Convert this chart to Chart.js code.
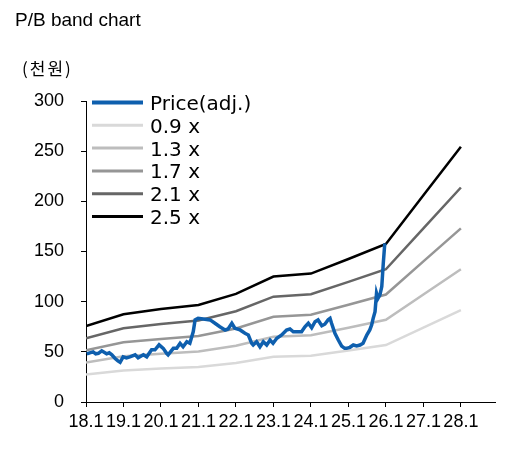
<!DOCTYPE html>
<html>
<head>
<meta charset="utf-8">
<script src="https://cdn.jsdelivr.net/npm/chart.js@4"></script>
<style>
  html, body { margin: 0; padding: 0; background: #fff; }
  #wrap { width: 512px; height: 454px; position: relative; }
</style>
</head>
<body>
<div id="wrap"><canvas id="chart" width="512" height="454"></canvas></div>
<script>
// band years (Jan of each year)
const bandYears = [2018, 2019, 2020, 2021, 2022, 2023, 2024, 2025, 2026, 2027, 2028];
const band09 = [27.3, 31.5, 33.3, 34.8, 38.8, 45.0, 46.1, 51.3, 56.7, 74.2, 91.6];
const band13 = [39.4, 45.5, 48.1, 50.3, 56.0, 65.0, 66.6, 74.1, 81.9, 107.1, 132.3];
const band17 = [51.5, 59.5, 62.9, 65.8, 73.3, 85.0, 87.0, 96.9, 107.1, 140.1, 173.1];
const band21 = [63.6, 73.5, 77.7, 81.3, 90.5, 105.0, 107.5, 119.7, 132.3, 173.0, 213.8];
const band25 = [75.8, 87.5, 92.7, 96.7, 107.7, 125.0, 128.0, 142.5, 157.5, 206.0, 254.5];

// adjusted price, x in decimal years
const priceX = [2018.02, 2018.10, 2018.19, 2018.26, 2018.33, 2018.42, 2018.55, 2018.62, 2018.69, 2018.77,
  2018.85, 2018.91, 2018.99, 2019.08, 2019.17, 2019.31, 2019.39, 2019.53, 2019.62, 2019.75,
  2019.84, 2019.95, 2020.06, 2020.15, 2020.19, 2020.33, 2020.42, 2020.51, 2020.59, 2020.69,
  2020.77, 2020.86, 2020.91, 2020.99, 2021.13, 2021.31, 2021.44, 2021.57, 2021.71, 2021.79,
  2021.89, 2021.97, 2022.11, 2022.24, 2022.33, 2022.42, 2022.46, 2022.55, 2022.64, 2022.73,
  2022.82, 2022.91, 2022.99, 2023.09, 2023.22, 2023.35, 2023.44, 2023.53, 2023.66, 2023.75,
  2023.84, 2023.93, 2024.02, 2024.11, 2024.19, 2024.29, 2024.37, 2024.46, 2024.51, 2024.55,
  2024.64, 2024.73, 2024.82, 2024.90, 2024.95, 2025.04, 2025.13, 2025.22, 2025.31, 2025.39,
  2025.49, 2025.57, 2025.62, 2025.66, 2025.71, 2025.75, 2025.79, 2025.84, 2025.89, 2025.93, 2025.97];
const priceY = [47.9, 49, 50, 48, 48.5, 51, 48, 49, 47, 43.6,
  41, 39.6, 45, 44, 45, 47, 44, 47, 45, 52,
  52, 57, 53.5, 48.5, 47, 53.5, 53.5, 58.5, 55, 60,
  58.5, 70, 81.8, 83.4, 82.7, 81.8, 78.5, 75, 71.8, 72.8,
  78.5, 73.5, 71.8, 68.5, 66.8, 58.5, 56.8, 60, 55, 60,
  56.8, 61.8, 58.5, 63.5, 66.8, 71.8, 72.8, 70, 70, 70,
  75, 78.5, 74, 80, 81.8, 76, 77.5, 82, 83.4, 78.5,
  68.5, 61.8, 55.8, 53.5, 53.5, 54.5, 56.8, 55.8, 56.8, 58.5,
  66.8, 71.8, 76.8, 83.4, 90, 108.4, 103.4, 106.7, 115, 138.3, 158.2];

const legendNames = ["Price(adj.)", "0.9 x", "1.3 x", "1.7 x", "2.1 x", "2.5 x"];
const colors = ["#0e5fae", "#d9d9d9", "#bdbdbd", "#969696", "#666666", "#000000"];
const widths = [3.5, 2.5, 2.5, 2.5, 2.5, 2.5];

const toPts = (xs, ys) => xs.map((x, i) => ({ x: x, y: ys[i] }));
const bands = [band09, band13, band17, band21, band25];

const datasets = [{ label: legendNames[0], data: toPts(priceX, priceY) }]
  .concat(bands.map((b, i) => ({ label: legendNames[i + 1], data: toPts(bandYears, b) })))
  .map((ds, i) => Object.assign(ds, {
    borderColor: colors[i], borderWidth: widths[i], pointRadius: 0, tension: 0, fill: false
  }));

// title, unit and legend drawn on the canvas
const decor = {
  id: "decor",
  afterDraw(chart) {
    const c = chart.ctx;
    c.save();
    c.fillStyle = "#000";
    c.textBaseline = "alphabetic";
    c.font = "19px 'Liberation Sans', Arial, sans-serif";
    c.fillText("P/B band chart", 15, 26);
    c.font = "17px 'Noto Sans CJK KR', sans-serif";
    c.letterSpacing = "2px";
    c.fillText("(천원)", 22, 75);
    c.letterSpacing = "0px";
    // legend
    legendNames.forEach((name, i) => {
      const y = 102.5 + i * 22.8;
      c.strokeStyle = colors[i];
      c.lineWidth = i === 0 ? 4 : 3;
      c.beginPath(); c.moveTo(92, y); c.lineTo(143, y); c.stroke();
      c.font = "20px 'DejaVu Sans', sans-serif";
      c.fillStyle = "#000";
      c.fillText(name, 150, y + 7.5);
    });
    c.restore();
  }
};

new Chart(document.getElementById("chart").getContext("2d"), {
  type: "line",
  data: { datasets: datasets },
  options: {
    responsive: false,
    animation: false,
    layout: { padding: { top: 101, right: 17, left: 0, bottom: 0 } },
    plugins: { legend: { display: false }, tooltip: { enabled: false } },
    scales: {
      x: {
        type: "linear", min: 2018, max: 2028.91,
        afterFit: s => { s.height = 52; },
        border: { color: "#000", width: 1 },
        grid: { drawOnChartArea: false, tickLength: 5, color: "#000" },
        ticks: {
          stepSize: 1, includeBounds: false, padding: 4, color: "#000", maxRotation: 0, autoSkip: false,
          font: { family: "'Liberation Sans', Arial, sans-serif", size: 18 },
          callback: v => (v - 2000) + ".1"
        }
      },
      y: {
        min: 0, max: 300,
        afterFit: s => { s.width = 86; },
        border: { color: "#000", width: 1 },
        grid: { drawOnChartArea: false, tickLength: 5, color: "#000" },
        ticks: {
          stepSize: 50, padding: 17, color: "#000",
          font: { family: "'Liberation Sans', Arial, sans-serif", size: 18 }
        }
      }
    }
  },
  plugins: [decor]
});
</script>
</body>
</html>
